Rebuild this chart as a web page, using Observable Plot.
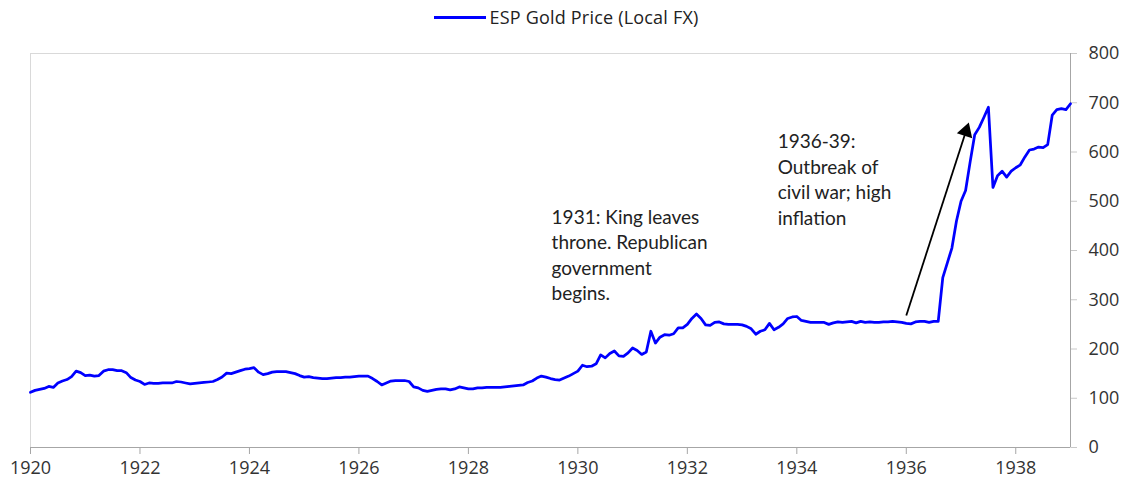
<!DOCTYPE html>
<html><head><meta charset="utf-8">
<script src="https://cdn.jsdelivr.net/npm/d3@7"></script>
<script src="https://cdn.jsdelivr.net/npm/@observablehq/plot@0.6"></script>
<style>
body{margin:0;background:#fff;}
#legend{height:34px;display:flex;align-items:center;justify-content:center;font-family:"Open Sans",sans-serif;font-size:18px;color:#222;letter-spacing:0.2px;}
#legend .sw{display:inline-block;width:52px;height:3px;background:#0000ff;margin-right:3px;}
</style></head><body>
<div id="legend"><span class="sw"></span><span id="legendText"></span></div>
<div id="chart"></div>
<script>
const seriesName = "ESP Gold Price (Local FX)";
const startYear = 1920; // monthly observations from Jan 1920
const goldPrice = [
  112,116,118,120,124,122,131,135,138,144,155,152,
  146,147,145,146,155,158,158,156,156,152,142,137,
  134,128,131,130,130,131,131,131,134,133,131,129,
  130,131,132,133,134,138,143,151,150,153,156,159,
  160,162,153,148,150,153,154,154,154,152,150,146,
  143,144,142,141,140,140,141,142,142,143,143,144,
  145,145,145,140,134,127,131,135,136,136,136,134,
  123,121,116,114,116,118,119,119,117,119,123,121,
  119,119,121,121,122,122,122,122,123,124,125,126,
  127,132,135,141,145,143,140,138,137,141,145,150,
  155,167,164,165,170,188,182,191,196,186,185,192,
  202,197,189,194,236,212,224,229,228,231,243,243,
  250,262,271,262,249,248,254,255,251,250,250,250,
  249,246,241,230,236,239,252,239,244,251,262,265,
  266,258,256,254,254,254,254,250,253,255,254,255,
  256,253,256,254,255,254,254,255,255,256,255,254,
  252,251,255,256,256,254,256,256,345,375,405,460,
  500,522,580,635,650,670,691,528,552,561,549,561,
  568,574,590,604,606,610,609,615,675,686,688,686,
  698
];
const xTicks = [1920,1922,1924,1926,1928,1930,1932,1934,1936,1938];
const yTicks = [0,100,200,300,400,500,600,700,800];
const noteTexts = [
  "1931: King leaves\nthrone. Republican\ngovernment\nbegins.",
  "1936-39:\nOutbreak of\ncivil war; high\ninflation"
];
const noteX = [1929.52, 1933.65];
const noteY = [491, 644];
const arrowTail = {x: 1936.0, y: 268};
const arrowHead = {x: 1937.09, y: 642};

document.getElementById("legendText").textContent = seriesName;

const data = goldPrice.map((v, i) => ({t: startYear + i / 12, v}));
const notes = noteTexts.map((text, i) => ({text, x: noteX[i], y: noteY[i]}));

const chart = Plot.plot({
  width: 1133, height: 457,
  marginTop: 19, marginBottom: 44, marginLeft: 30, marginRight: 63,
  style: {fontFamily: "'Open Sans', sans-serif", fontSize: "18px", background: "#fff", overflow: "visible"},
  x: {domain: [1920, 1939]},
  y: {domain: [0, 800]},
  marks: [
    Plot.frame({stroke: "#d9d9d9"}),
    Plot.axisX({ticks: xTicks, tickFormat: d => String(d), tickSize: 7, tickPadding: 7, label: null, stroke: "#a6a6a6", fill: "#333", fontSize: 18}),
    Plot.axisY({anchor: "right", ticks: yTicks, tickSize: 6, tickPadding: 12, label: null, stroke: "#c8c8c8", fill: "#333", fontSize: 18}),
    Plot.ruleY([0], {stroke: "#a6a6a6"}),
    Plot.ruleX([1939], {stroke: "#a6a6a6"}),
    Plot.line(data, {x: "t", y: "v", stroke: "#0000ff", strokeWidth: 2.75}),
    Plot.link([{x1: arrowTail.x, y1: arrowTail.y, x2: arrowHead.x, y2: arrowHead.y}], {x1: "x1", y1: "y1", x2: "x2", y2: "y2", stroke: "black", strokeWidth: 1.8}),
    Plot.dot([arrowHead], {x: "x", y: "y", symbol: "triangle", r: 6, fill: "black", stroke: "none", rotate: 18}),
    Plot.text(notes, {x: "x", y: "y", text: "text", textAnchor: "start", lineAnchor: "top", lineHeight: 1.34, fontSize: 19, fill: "#222", fontFamily: "Lato"})
  ]
});
document.getElementById("chart").appendChild(chart);
</script>
</body></html>
